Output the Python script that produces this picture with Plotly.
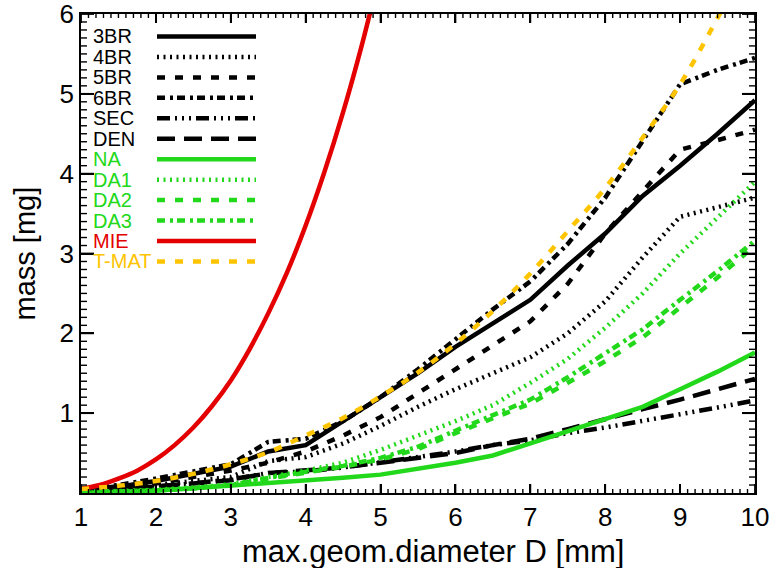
import plotly.graph_objects as go

# ---------------- data ----------------
D_GRID = [1.0, 1.5, 2.0, 2.5, 3.0, 3.5, 4.0, 4.5, 5.0, 5.5, 6.0, 6.5, 7.0, 7.5, 8.0, 8.5, 9.0, 9.5, 10.0]

M_3BR = [0.05, 0.08, 0.15, 0.24, 0.33, 0.52, 0.60, 0.90, 1.20, 1.50, 1.83, 2.12, 2.42, 2.85, 3.25, 3.72, 4.10, 4.50, 4.92]
M_4BR = [0.04, 0.06, 0.10, 0.15, 0.20, 0.40, 0.45, 0.62, 0.84, 1.08, 1.30, 1.50, 1.70, 2.00, 2.40, 2.95, 3.46, 3.58, 3.70]
M_5BR = [0.05, 0.07, 0.12, 0.20, 0.28, 0.38, 0.52, 0.72, 0.95, 1.25, 1.55, 1.86, 2.15, 2.62, 3.25, 3.78, 4.30, 4.42, 4.55]
M_6BR = [0.05, 0.10, 0.18, 0.27, 0.36, 0.64, 0.68, 0.90, 1.20, 1.55, 1.92, 2.30, 2.65, 3.12, 3.70, 4.40, 5.12, 5.30, 5.45]
M_SEC = [0.03, 0.05, 0.08, 0.12, 0.17, 0.25, 0.27, 0.32, 0.38, 0.45, 0.52, 0.60, 0.66, 0.75, 0.82, 0.90, 0.98, 1.07, 1.16]
M_DEN = [0.03, 0.05, 0.08, 0.12, 0.16, 0.25, 0.28, 0.32, 0.38, 0.44, 0.50, 0.60, 0.68, 0.80, 0.93, 1.05, 1.17, 1.30, 1.43]
M_NA = [0.00, 0.01, 0.03, 0.06, 0.09, 0.12, 0.15, 0.19, 0.23, 0.30, 0.38, 0.47, 0.62, 0.77, 0.92, 1.08, 1.30, 1.52, 1.76]
M_DA1 = [0.01, 0.02, 0.04, 0.07, 0.11, 0.20, 0.28, 0.38, 0.54, 0.72, 0.90, 1.10, 1.38, 1.68, 2.07, 2.50, 3.00, 3.45, 3.90]
M_DA2 = [0.01, 0.02, 0.03, 0.06, 0.10, 0.18, 0.25, 0.33, 0.42, 0.55, 0.75, 0.93, 1.12, 1.38, 1.65, 1.95, 2.32, 2.70, 3.10]
M_DA3 = [0.01, 0.02, 0.03, 0.06, 0.10, 0.19, 0.26, 0.34, 0.44, 0.58, 0.78, 0.97, 1.17, 1.45, 1.75, 2.05, 2.42, 2.78, 3.16]
M_TMAT = [0.05, 0.09, 0.15, 0.24, 0.36, 0.51, 0.72, 0.94, 1.21, 1.51, 1.87, 2.28, 2.75, 3.28, 3.82, 4.45, 5.12, 5.95, 6.85]

D_MIE = [1.0, 1.25, 1.5, 1.75, 2.0, 2.25, 2.5, 2.75, 3.0, 3.25, 3.5, 3.75, 4.0, 4.25, 4.5, 4.75, 5.0]
M_MIE = [0.05, 0.10, 0.18, 0.28, 0.42, 0.60, 0.82, 1.09, 1.41, 1.80, 2.25, 2.76, 3.35, 4.02, 4.77, 5.61, 6.55]

X_TICKS = [1, 2, 3, 4, 5, 6, 7, 8, 9, 10]
Y_TICKS = [1, 2, 3, 4, 5, 6]
X_RANGE = [1, 10]
Y_RANGE = [0, 6]
MINOR_STEP = 0.1
X_TITLE = "max.geom.diameter D [mm]"
Y_TITLE = "mass [mg]"

# ---------------- styles ----------------
BLACK = "#000000"
GREEN = "#22d81a"
RED = "#e40000"
ORANGE = "#ffc400"
LW = 4.5
DOT = "2px,4.5px"
DASH = "8px,10px"
DASHDOT = "8px,5px,3px,4px"
DASH3DOT = "13px,5px,2px,5px,2px,5px,2px,5px"
LONGDASH = "18px,9px"

series = [
    ("3BR", D_GRID, M_3BR, BLACK, "solid", "linear"),
    ("4BR", D_GRID, M_4BR, BLACK, DOT, "linear"),
    ("5BR", D_GRID, M_5BR, BLACK, DASH, "linear"),
    ("6BR", D_GRID, M_6BR, BLACK, DASHDOT, "linear"),
    ("SEC", D_GRID, M_SEC, BLACK, DASH3DOT, "linear"),
    ("DEN", D_GRID, M_DEN, BLACK, LONGDASH, "linear"),
    ("NA", D_GRID, M_NA, GREEN, "solid", "linear"),
    ("DA1", D_GRID, M_DA1, GREEN, DOT, "linear"),
    ("DA2", D_GRID, M_DA2, GREEN, DASH, "linear"),
    ("DA3", D_GRID, M_DA3, GREEN, DASHDOT, "linear"),
    ("MIE", D_MIE, M_MIE, RED, "solid", "spline"),
    ("T-MAT", D_GRID, M_TMAT, ORANGE, DASH, "spline"),
]

FONT = "Liberation Sans, Arial, sans-serif"

# plot-area geometry in pixels
L, T, R, B = 81, 14, 755, 493
PW, PH = R - L, B - T
XU = (X_RANGE[1] - X_RANGE[0]) / PW   # data units per pixel (x)
YU = (Y_RANGE[1] - Y_RANGE[0]) / PH   # data units per pixel (y)

fig = go.Figure()
for name, xs, ys, col, dash, shape in series:
    fig.add_trace(go.Scatter(x=xs, y=ys, mode="lines", name=name,
                             line=dict(color=col, width=LW, dash=dash, shape=shape),
                             showlegend=False, hoverinfo="skip"))

# ---------------- IDL-style inside ticks on all four sides ----------------
def tick_trace(major_x, major_y, width, xlen_px, ylen_px, minor):
    tx, ty = [], []
    xv = []
    yv = []
    if minor:
        n = int(round((X_RANGE[1] - X_RANGE[0]) / MINOR_STEP))
        xv = [X_RANGE[0] + k * MINOR_STEP for k in range(1, n)]
        xv = [v for v in xv if abs(v - round(v)) > 1e-6]
        n = int(round((Y_RANGE[1] - Y_RANGE[0]) / MINOR_STEP))
        yv = [Y_RANGE[0] + k * MINOR_STEP for k in range(1, n)]
        yv = [v for v in yv if abs(v - round(v)) > 1e-6]
    else:
        xv, yv = list(major_x), list(major_y)
    for v in xv:
        tx += [v, v, None, v, v, None]
        ty += [Y_RANGE[0], Y_RANGE[0] + xlen_px * YU, None,
               Y_RANGE[1], Y_RANGE[1] - xlen_px * YU, None]
    for v in yv:
        ty += [v, v, None, v, v, None]
        tx += [X_RANGE[0], X_RANGE[0] + ylen_px * XU, None,
               X_RANGE[1], X_RANGE[1] - ylen_px * XU, None]
    return go.Scatter(x=tx, y=ty, mode="lines", line=dict(color="black", width=width),
                      showlegend=False, hoverinfo="skip", connectgaps=False)

fig.add_trace(tick_trace(X_TICKS, Y_TICKS, 1.4, 4, 6, minor=True))
fig.add_trace(tick_trace(X_TICKS, Y_TICKS, 1.8, 9, 13, minor=False))

# ---------------- legend built from text + line samples ----------------
row0, rowstep = 36.5, 20.45
for i, (name, xs, ys, col, dash, shape) in enumerate(series):
    py = row0 + i * rowstep
    yp = (B - py) / PH
    fig.add_shape(type="line", xref="paper", yref="paper",
                  x0=(157 - L) / PW, x1=(256 - L) / PW, y0=yp, y1=yp,
                  line=dict(color=col, width=LW, dash=dash))
    fig.add_annotation(text=name, xref="paper", yref="paper",
                       x=(91 - L) / PW, y=yp, xanchor="left", yanchor="middle",
                       showarrow=False, font=dict(family=FONT, size=20, color=col))

# axis titles
fig.add_annotation(text=X_TITLE, xref="paper", yref="paper",
                   x=(433 - L) / PW, y=(B - 551) / PH, xanchor="center", yanchor="middle",
                   showarrow=False, font=dict(family=FONT, size=31, color="black"))
fig.add_annotation(text=Y_TITLE, xref="paper", yref="paper", textangle=-90,
                   x=(24 - L) / PW, y=0.5, xanchor="center", yanchor="middle",
                   showarrow=False, font=dict(family=FONT, size=29, color="black"))

fig.update_xaxes(range=X_RANGE, tickvals=X_TICKS, ticks="inside", ticklen=9,
                 tickwidth=1.8, tickcolor="black", mirror="ticks",
                 showline=True, linecolor="black", linewidth=1.8,
                 showgrid=False, zeroline=False, ticklabeloverflow="allow",
                 tickfont=dict(family=FONT, size=26, color="black"))
fig.update_yaxes(range=Y_RANGE, tickvals=Y_TICKS, ticks="inside", ticklen=13,
                 tickwidth=1.8, tickcolor="black", mirror="ticks",
                 showline=True, linecolor="black", linewidth=1.8,
                 showgrid=False, zeroline=False, ticklabeloverflow="allow",
                 tickfont=dict(family=FONT, size=26, color="black"))

fig.update_layout(width=772, height=568, autosize=False,
                  margin=dict(l=L, r=772 - R, t=T, b=568 - B, autoexpand=False),
                  paper_bgcolor="white", plot_bgcolor="white",
                  showlegend=False)

fig.write_html("out.html")
